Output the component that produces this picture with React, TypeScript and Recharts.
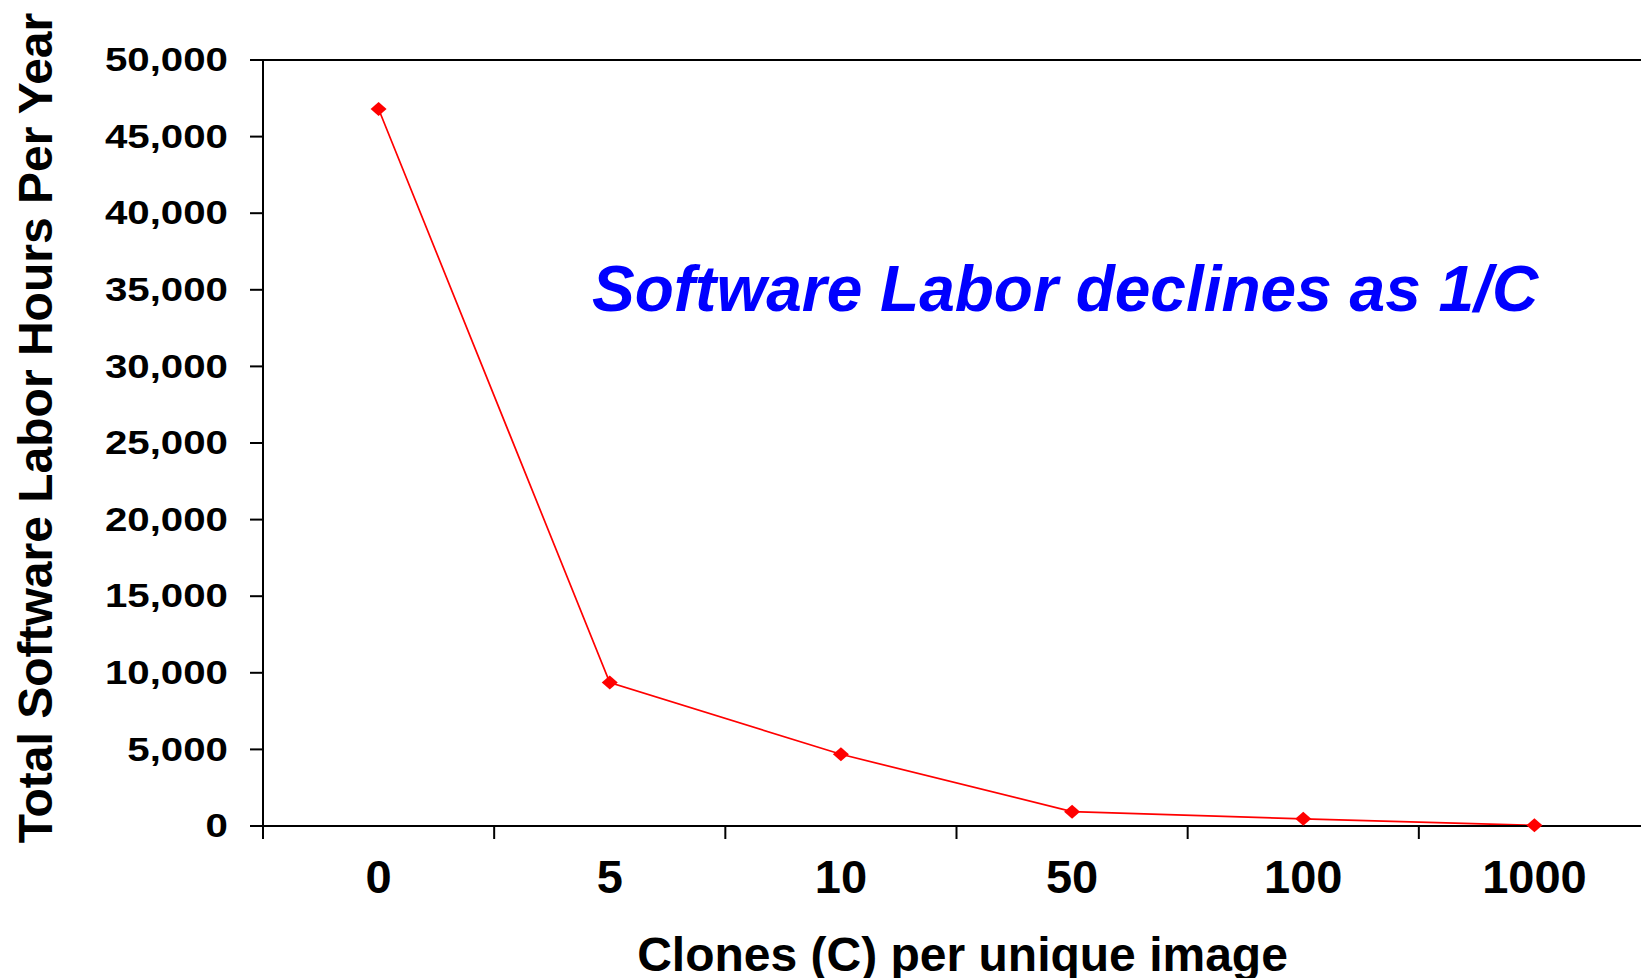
import { LineChart, Line, XAxis, YAxis, ReferenceLine } from "recharts";

const categories = ["0", "5", "10", "50", "100", "1000"];
const hours = [46800, 9360, 4680, 936, 468, 46.8];
const yTicks = [0, 5000, 10000, 15000, 20000, 25000, 30000, 35000, 40000, 45000, 50000];

// place each category in the middle of its band on a numeric axis, so the tick marks can sit at the band edges
const data = categories.map((label, i) => ({ pos: i + 0.5, label, hours: hours[i] }));
const xTicks: number[] = [];
for (let i = 0; i <= categories.length; i++) {
  xTicks.push(i);
  if (i < categories.length) xTicks.push(i + 0.5);
}

const FONT = '"Liberation Sans", Arial, Helvetica, sans-serif';

function XTick(props: any) {
  const { x, y, payload } = props;
  const v = payload.value as number;
  if (Number.isInteger(v)) {
    return <line x1={x} x2={x} y1={y} y2={y + 13} stroke="#000" strokeWidth={2} />;
  }
  return (
    <text x={x} y={y + 67} textAnchor="middle" fontFamily={FONT} fontWeight="bold" fontSize={47} fill="#000">
      {categories[Math.floor(v)]}
    </text>
  );
}

function YTick(props: any) {
  const { x, y, payload } = props;
  return (
    <text
      transform={`translate(${x},${y}) scale(1.22,1)`}
      textAnchor="end"
      dominantBaseline="central"
      fontFamily={FONT}
      fontWeight="bold"
      fontSize={33}
      fill="#000"
    >
      {Number(payload.value).toLocaleString("en-US")}
    </text>
  );
}

function Diamond(props: any) {
  const { cx, cy } = props;
  if (cx == null || cy == null) return null;
  return <polygon points={`${cx - 8},${cy} ${cx},${cy - 7} ${cx + 8},${cy} ${cx},${cy + 7}`} fill="#FF0000" />;
}

export default function App() {
  return (
    <div style={{ position: "fixed", left: 0, top: 0, width: 1641, height: 978, overflow: "hidden", background: "#fff" }}>
      <LineChart width={1660} height={978} data={data} margin={{ top: 60, right: 10, bottom: 0, left: 0 }}>
        <XAxis
          type="number"
          dataKey="pos"
          domain={[0, categories.length]}
          ticks={xTicks}
          interval={0}
          height={152}
          tickSize={0}
          tickMargin={0}
          tickLine={false}
          tick={<XTick />}
          axisLine={{ stroke: "#000", strokeWidth: 2 }}
          label={{
            content: (p: any) => {
              const vb = p.viewBox;
              return (
                <text
                  x={vb.x + vb.width / 2 + 6}
                  y={vb.y + 145}
                  textAnchor="middle"
                  fontFamily={FONT}
                  fontWeight="bold"
                  fontSize={48}
                  fill="#000"
                >
                  Clones (C) per unique image
                </text>
              );
            },
          }}
        />
        <YAxis
          type="number"
          domain={[0, 50000]}
          ticks={yTicks}
          interval={0}
          width={263}
          tickSize={13}
          tickMargin={22}
          tickLine={{ stroke: "#000", strokeWidth: 2 }}
          tick={<YTick />}
          axisLine={{ stroke: "#000", strokeWidth: 2 }}
          label={{
            content: (p: any) => {
              const vb = p.viewBox;
              return (
                <text
                  transform={`translate(52,${vb.y + vb.height / 2 - 15}) rotate(-90)`}
                  textAnchor="middle"
                  fontFamily={FONT}
                  fontWeight="bold"
                  fontSize={48}
                  fill="#000"
                >
                  Total Software Labor Hours Per Year
                </text>
              );
            },
          }}
        />
        <ReferenceLine y={50000} stroke="#000" strokeWidth={2} />
        <Line
          type="linear"
          dataKey="hours"
          stroke="#FF0000"
          strokeWidth={1.7}
          dot={<Diamond />}
          activeDot={false}
          isAnimationActive={false}
        />
      </LineChart>
      <svg width={1641} height={978} style={{ position: "absolute", left: 0, top: 0, pointerEvents: "none" }}>
        <text x={592} y={311} fontFamily={FONT} fontWeight="bold" fontStyle="italic" fontSize={64} fill="#0000FF">
          Software Labor declines as 1/C
        </text>
      </svg>
    </div>
  );
}
